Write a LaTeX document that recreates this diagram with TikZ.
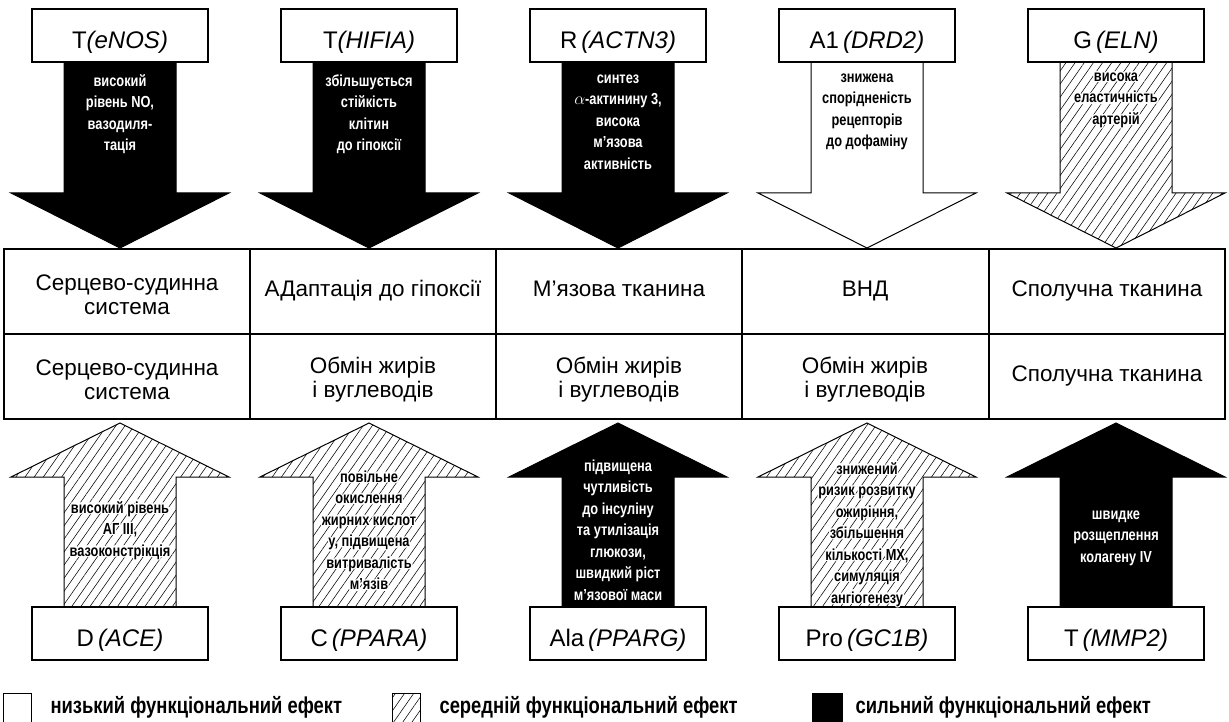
\documentclass[tikz,border=0pt]{standalone}
\usepackage{fontspec}
\setmainfont{Liberation Sans}
\newfontfamily\condfont[FakeStretch=0.8]{Liberation Sans}
\usepackage[copies]{contour}
\contourlength{1.4pt}
\contournumber{12}
\usetikzlibrary{patterns.meta}
\newcommand{\halo}[1]{\contour{white}{#1}}

\tikzset{
  genebox/.style={draw,line width=2pt,fill=white,minimum width=176pt,minimum height=53pt,inner sep=0pt,text height=26.5pt,text depth=0pt,font=\fontsize{24}{28}\selectfont},
  effect/.style={align=center,inner sep=0pt,font=\condfont\bfseries\fontsize{16}{21.5}\selectfont},
  strong/.style={draw,line width=1pt,fill=black},
  weak/.style={draw,line width=1pt,fill=white},
  medium/.style={draw,line width=1pt,pattern={Lines[angle=55,distance=7.5pt,line width=0.55pt]}},
  cell/.style={align=center,font=\fontsize{22.5}{24}\selectfont},
  oneline/.style={cell,text height=16pt,text depth=4.5pt},
  legend/.style={anchor=base west,font=\condfont\bfseries\fontsize{23}{26}\selectfont}
}

\begin{document}
\begin{tikzpicture}[x=1pt,y=-1pt]
\useasboundingbox (0,0) rectangle (1229,722);

% arrows down
\foreach \x/\kind in {120/strong,369/strong,618/strong,867/weak,1116/medium}
  \draw[\kind] ({\x-56},62) -- ({\x+56},62) -- ({\x+56},193) -- ({\x+109},193) -- (\x,248) -- ({\x-109},193) -- ({\x-56},193) -- cycle;

% arrows up
\foreach \x/\kind in {120/medium,369/medium,618/strong,867/medium,1116/strong}
  \draw[\kind] ({\x-56},607) -- ({\x+56},607) -- ({\x+56},477) -- ({\x+109},477) -- (\x,423) -- ({\x-109},477) -- ({\x-56},477) -- cycle;

% genes
\node[genebox] (enos) at (120,35.5) {T\textit{(eNOS)}};
\node[genebox] (hifia) at (369,35.5) {T\textit{(HIFIA)}};
\node[genebox] (actn) at (618,35.5) {R\,\textit{(ACTN3)}};
\node[genebox] (drd) at (867,35.5) {A1\,\textit{(DRD2)}};
\node[genebox] (eln) at (1116,35.5) {G\,\textit{(ELN)}};

\node[genebox] (ace) at (120,633) {D\,\textit{(ACE)}};
\node[genebox] (ppara) at (369,633) {C\,\textit{(PPARA)}};
\node[genebox] (pparg) at (618,633) {Ala\,\textit{(PPARG)}};
\node[genebox] (gcb) at (867,633) {Pro\,\textit{(GC1B)}};
\node[genebox] (mmp) at (1116,633) {T\,\textit{(MMP2)}};

% effects
\node[effect,text=white] (e1) at (120,114) {високий\\рівень NO,\\вазодиля-\\тація};
\node[effect,text=white] (e2) at (369,114) {збільшується\\стійкість\\клітин\\до гіпоксії};
\node[effect,text=white] (e3) at (618,122) {синтез\\$\alpha$-актинину 3,\\висока\\м’язова\\активність};
\node[effect] (e4) at (867,112) {знижена\\спорідненість\\рецепторів\\до дофаміну};
\node[effect] (e5) at (1116,101) {\halo{висока}\\\halo{еластичність}\\\halo{артерій}};

\node[effect] (f1) at (120,531) {\halo{високий рівень}\\\halo{АГ III,}\\\halo{вазоконстрікція}};
\node[effect] (f2) at (369,531) {\halo{повільне}\\\halo{окислення}\\\halo{жирних кислот}\\\halo{у, підвищена}\\\halo{витривалість}\\\halo{м’язів}};
\node[effect,text=white] (f3) at (618,530) {підвищена\\чутливість\\до інсуліну\\та утилізація\\глюкози,\\швидкий ріст\\м’язової маси};
\node[effect] (f4) at (867,535) {\halo{знижений}\\\halo{ризик розвитку}\\\halo{ожиріння,}\\\halo{збільшення}\\\halo{кількості МХ,}\\\halo{симуляція}\\\halo{ангіогенезу}};
\node[effect,text=white] (f5) at (1116,538) {швидке\\розщеплення\\колагену IV};

% table
\draw[line width=1.3pt] (4,249) rectangle (1225,419);
\draw[line width=1.3pt] (4,334) -- (1225,334);
\foreach \x in {250,496,742,989}
  \draw[line width=1.3pt] (\x,249) -- (\x,419);

\node[cell] (sys1) at (127,295) {Серцево-судинна\\система};
\node[oneline] (sys2) at (373,291) {АДаптація до гіпоксії};
\node[oneline] (sys3) at (619,291) {М’язова тканина};
\node[oneline] (sys4) at (865,291) {ВНД};
\node[oneline] (sys5) at (1107,291) {Сполучна тканина};

\node[cell] (met1) at (127,380) {Серцево-судинна\\система};
\node[cell] (met2) at (373,380) {Обмін жирів\\і вуглеводів};
\node[cell] (met3) at (619,380) {Обмін жирів\\і вуглеводів};
\node[cell] (met4) at (865,380) {Обмін жирів\\і вуглеводів};
\node[oneline] (met5) at (1107,376) {Сполучна тканина};

% legend
\draw[weak] (3,693) rectangle (31,723);
\node[legend] (low) at (47,713) {низький функціональний ефект};
\draw[medium] (392,693) rectangle (420,723);
\node[legend] (mid) at (436,713) {середній функціональний ефект};
\draw[strong] (812,693) rectangle (842,723);
\node[legend] (high) at (852,713) {сильний функціональний ефект};
\end{tikzpicture}
\end{document}
